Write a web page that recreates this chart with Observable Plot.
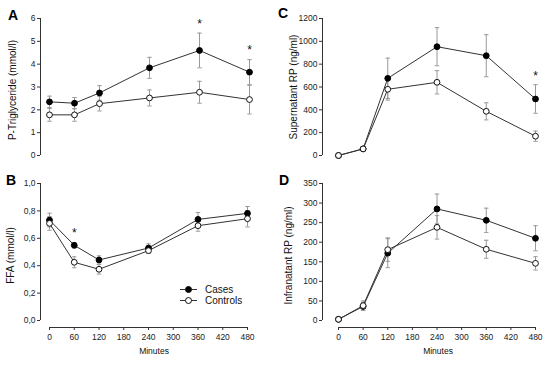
<!DOCTYPE html>
<html><head><meta charset="utf-8">
<script src="https://cdn.jsdelivr.net/npm/d3@7"></script>
<script src="https://cdn.jsdelivr.net/npm/@observablehq/plot@0.6"></script>
<style>
body{margin:0;background:#fff;font-family:"Liberation Sans",Arial,sans-serif;}
#wrap{position:relative;width:550px;height:366px;overflow:hidden;background:#fff;}
.panel{position:absolute;}
.letter{position:absolute;font-weight:bold;font-size:14px;line-height:14px;color:#000;}
#legend{position:absolute;left:176px;top:284px;font-size:10px;color:#111;}
</style></head><body><div id="wrap"></div>
<script>
// shared x values (minutes)
const minutes = [0, 60, 120, 240, 360, 480];
const xTicks = [0, 60, 120, 180, 240, 300, 360, 420, 480];
const seriesNames = ["Cases", "Controls"];

// A: P-Triglyceride (mmol/l)
const trigCases = [2.35, 2.29, 2.74, 3.84, 4.60, 3.65];
const trigCasesSem = [0.25, 0.25, 0.32, 0.46, 0.76, 0.55];
const trigControls = [1.78, 1.78, 2.27, 2.52, 2.77, 2.45];
const trigControlsSem = [0.28, 0.28, 0.32, 0.35, 0.48, 0.63];
const trigStars = [360, 480];
const trigTicks = [0, 1, 2, 3, 4, 5, 6];

// B: FFA (mmol/l)
const ffaCases = [0.733, 0.549, 0.442, 0.529, 0.738, 0.782];
const ffaCasesSem = [0.05, 0.02, 0.03, 0.03, 0.05, 0.05];
const ffaControls = [0.709, 0.425, 0.374, 0.51, 0.692, 0.743];
const ffaControlsSem = [0.05, 0.04, 0.035, 0.02, 0.04, 0.06];
const ffaStars = [60];
const ffaTicks = [0, 0.2, 0.4, 0.6, 0.8, 1.0];

// C: Supernatant RP (ng/ml)
const supCases = [0, 58, 676, 953, 874, 495];
const supCasesSem = [0, 10, 177, 167, 184, 125];
const supControls = [0, 58, 580, 641, 387, 169];
const supControlsSem = [0, 10, 95, 102, 75, 45];
const supStars = [480];
const supTicks = [0, 200, 400, 600, 800, 1000, 1200];

// D: Infranatant RP (ng/ml)
const infCases = [3, 36, 172, 285, 256, 210];
const infCasesSem = [2, 10, 37, 38, 31, 32];
const infControls = [3, 38, 181, 238, 182, 146];
const infControlsSem = [2, 12, 30, 30, 23, 17];
const infStars = [];
const infTicks = [0, 50, 100, 150, 200, 250, 300, 350];

const capSymbol = {
  draw(context, size) {
    const w = Math.sqrt(size / Math.PI);
    context.moveTo(-w, 0);
    context.lineTo(w, 0);
  }
};

function panel(o) {
  const cas = minutes.map((t, i) => ({t, v: o.cases[i], s: o.casesSem[i]}));
  const con = minutes.map((t, i) => ({t, v: o.controls[i], s: o.controlsSem[i]}));
  const all = cas.concat(con).filter(d => d.s > 0);
  const caps = all.flatMap(d => [{t: d.t, y: d.v - d.s}, {t: d.t, y: d.v + d.s}]);
  const stars = cas.filter(d => o.stars.includes(d.t));
  const y0 = o.yTicks[0], y1 = o.yTicks[o.yTicks.length - 1];
  const marks = [
    Plot.ruleX([0], {x: d => d, y1: () => y0, y2: () => y1, dx: -o.insetLeft, stroke: "#333", strokeWidth: 1}),
    Plot.axisY({ticks: o.yTicks, tickFormat: o.yFormat, tickSize: 3, tickPadding: 2, fontSize: 8.5, label: null, stroke: "#333", color: "#222"}),
    Plot.text([o.title], {frameAnchor: "left", textAnchor: "middle", rotate: -90, dx: o.titleDx, dy: o.titleDy || 0, fontSize: 10, fill: "#111"}),
    Plot.ruleX(all, {x: "t", y1: d => d.v - d.s, y2: d => d.v + d.s, stroke: "#999", strokeWidth: 1}),
    Plot.dot(caps, {x: "t", y: "y", symbol: capSymbol, r: 2.2, stroke: "#999", strokeWidth: 1}),
    Plot.line(cas, {x: "t", y: "v", stroke: "#333", strokeWidth: 1}),
    Plot.line(con, {x: "t", y: "v", stroke: "#333", strokeWidth: 1}),
    Plot.dot(cas, {x: "t", y: "v", r: 2.9, fill: "#000", stroke: "#000", strokeWidth: 1}),
    Plot.dot(con, {x: "t", y: "v", r: 2.9, fill: "#fff", stroke: "#111", strokeWidth: 1}),
    Plot.text(stars, {x: "t", y: d => d.v + d.s, text: () => "*", dy: -9, fontSize: 12, fill: "#111"})
  ];
  if (o.xAxis) {
    marks.push(
      Plot.ruleY([y0], {x1: () => 0, x2: () => 480, y: d => d, dy: o.insetBottom, stroke: "#333", strokeWidth: 1}),
      Plot.axisX({ticks: xTicks, tickSize: 3, tickPadding: 3, fontSize: 8.5, label: null, stroke: "#333", color: "#222"}),
      Plot.text(["Minutes"], {frameAnchor: "bottom", dx: o.minDx, dy: 26, fontSize: 8.5, fill: "#111"})
    );
  } else {
    marks.push(Plot.axisX({ticks: [], label: null}));
  }
  const chart = Plot.plot({
    width: 275,
    height: o.height,
    marginLeft: o.marginLeft,
    marginRight: o.marginRight,
    marginTop: o.marginTop,
    marginBottom: o.marginBottom,
    style: {fontFamily: "'Liberation Sans', Arial, sans-serif", background: "transparent", overflow: "visible"},
    x: {domain: [0, 480], insetLeft: o.insetLeft},
    y: {domain: [y0, y1], insetBottom: o.insetBottom || 0},
    marks
  });
  chart.classList.add("panel");
  chart.style.left = o.left + "px";
  chart.style.top = o.top + "px";
  return chart;
}

const wrap = document.getElementById("wrap");
const comma = d => d.toFixed(1).replace(".", ",");

wrap.appendChild(panel({
  cases: trigCases, casesSem: trigCasesSem, controls: trigControls, controlsSem: trigControlsSem,
  stars: trigStars, yTicks: trigTicks, yFormat: d => String(d), title: "P-Triglyceride (mmol/l)", titleDx: -28, titleDy: 3,
  left: 0, top: 0, height: 165, marginLeft: 40, marginRight: 26, marginTop: 18, marginBottom: 10, insetLeft: 9, insetBottom: 0, xAxis: false
}));
wrap.appendChild(panel({
  cases: supCases, casesSem: supCasesSem, controls: supControls, controlsSem: supControlsSem,
  stars: supStars, yTicks: supTicks, yFormat: d => String(d), title: "Supernatant RP (ng/ml)", titleDx: -29, titleDy: 0,
  left: 275, top: 0, height: 165, marginLeft: 47, marginRight: 15, marginTop: 18, marginBottom: 10, insetLeft: 16, insetBottom: 0, xAxis: false
}));
wrap.appendChild(panel({
  cases: ffaCases, casesSem: ffaCasesSem, controls: ffaControls, controlsSem: ffaControlsSem,
  stars: ffaStars, yTicks: ffaTicks, yFormat: comma, title: "FFA (mmol/l)", titleDx: -30, titleDy: 0,
  left: 0, top: 170, height: 196, marginLeft: 40, marginRight: 28, marginTop: 13, marginBottom: 39, insetLeft: 9, insetBottom: 7, xAxis: true, minDx: 10
}));
wrap.appendChild(panel({
  cases: infCases, casesSem: infCasesSem, controls: infControls, controlsSem: infControlsSem,
  stars: infStars, yTicks: infTicks, yFormat: d => String(d), title: "Infranatant RP (ng/ml)", titleDx: -34, titleDy: 0,
  left: 275, top: 170, height: 196, marginLeft: 47, marginRight: 15, marginTop: 13, marginBottom: 39, insetLeft: 16, insetBottom: 7, xAxis: true, minDx: 9
}));

// panel letters
[["A", 8, 8], ["C", 278, 6], ["B", 6, 173], ["D", 279, 173]].forEach(([t, x, y]) => {
  const d = document.createElement("div");
  d.className = "letter";
  d.textContent = t;
  d.style.left = x + "px";
  d.style.top = y + "px";
  wrap.appendChild(d);
});

// legend
const leg = document.createElement("div");
leg.id = "legend";
leg.innerHTML = seriesNames.map((name, i) =>
  `<div style="display:flex;align-items:center;height:11px;">
     <svg width="26" height="11"><line x1="4" x2="21" y1="5.5" y2="5.5" stroke="#333"/>
     <circle cx="12.5" cy="5.5" r="3" fill="${i === 0 ? "#000" : "#fff"}" stroke="#111"/></svg>
     <span style="margin-left:3px">${name}</span></div>`).join("");
wrap.appendChild(leg);
</script></body></html>
